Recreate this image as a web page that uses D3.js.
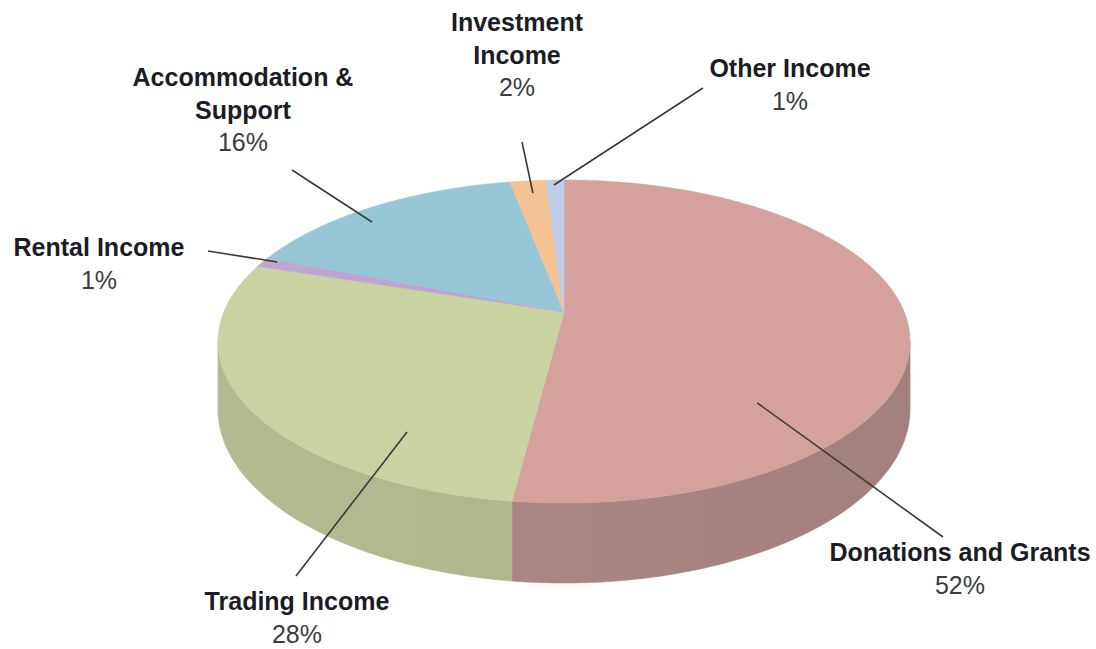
<!DOCTYPE html>
<html><head><meta charset="utf-8">
<script src="https://cdn.jsdelivr.net/npm/d3@7"></script>
<style>html,body{margin:0;padding:0;background:#fff}svg{display:block}</style>
</head><body>
<svg id="chart" width="1096" height="649"></svg>
<script>
// ---- data ----
const categories = ["Donations and Grants","Trading Income","Rental Income","Accommodation & Support","Investment Income","Other Income"];
const values = [52, 28, 1, 16, 2, 1];
const percentLabels = ["52%","28%","1%","16%","2%","1%"];
const nameLines = [["Donations and Grants"],["Trading Income"],["Rental Income"],["Accommodation &","Support"],["Investment","Income"],["Other Income"]];

// ---- styles / layout ----
const topColors  = ["#D5A19D","#C8D3A1","#BEA5D2","#97C7D6","#F3C394","#BFCDE9"];
const sideColors = ["#A98583","#AEB78C","#9C88B0","#7EA9B7","#D0A67E","#A2AEC8"];
const cx = 564, cy = 312, A = 340.2, B = 156.1, E = 0.1827, D0 = 65.4;
const labelLayout = [
  {x:960, y:561, at:0.725, r:0.735, lx:943, ly:537},
  {x:297, y:610, at:0.236, r:0.786, lx:296, ly:576},
  {x:99,  y:256, at:0.78,  r:0.958, lx:208, ly:251},
  {x:243, y:86,  at:0.417, r:0.902, lx:292, ly:170},
  {x:517, y:31,  at:0.55,  r:0.892, lx:522, ly:142},
  {x:790, y:77,  at:0.42,  r:0.956, lx:703, ly:88}
];
const lineH = 32.5;

const svg = d3.select("#chart");
const defs = svg.append("defs");

// perspective projection of a point on the pie disk (theta clockwise from 12 o'clock)
function proj(theta, r, h) {
  const u = r * Math.sin(theta), v = -r * Math.cos(theta);
  const den = 1 - E * v;
  return [cx + A * u / den, cy + (B * v + h) / den];
}

const arcs = d3.pie().sort(null).value(d => d)(values);
const line = d3.line();

// gradients for side walls (slightly lighter on the left, darker on the right)
sideColors.forEach((c, i) => {
  const g = defs.append("linearGradient").attr("id", "side" + i)
    .attr("gradientUnits", "userSpaceOnUse")
    .attr("x1", cx - A * 1.02).attr("x2", cx + A * 1.02).attr("y1", 0).attr("y2", 0);
  const base = d3.rgb(c);
  [[0, 1.03], [0.5, 1.0], [1, 0.96]].forEach(([o, f]) => {
    g.append("stop").attr("offset", o)
      .attr("stop-color", d3.rgb(base.r * f, base.g * f, base.b * f).formatHex());
  });
});

// visible (front-facing) angular range of the cylinder wall
const visLo = Math.PI - Math.acos(E), visHi = Math.PI + Math.acos(E);
const walls = [];
arcs.forEach((a, i) => {
  const s = Math.max(a.startAngle, visLo), e = Math.min(a.endAngle, visHi);
  if (e <= s) return;
  const n = Math.max(4, Math.ceil((e - s) / (Math.PI / 360)));
  const topPts = [], botPts = [];
  for (let k = 0; k <= n; k++) {
    const t = s + (e - s) * k / n;
    topPts.push(proj(t, 1, 0));
    botPts.push(proj(t, 1, D0));
  }
  walls.push({i, pts: topPts.concat(botPts.reverse())});
});

svg.append("g").selectAll("path").data(walls).join("path")
  .attr("d", d => line(d.pts) + "Z")
  .attr("fill", d => `url(#side${d.i})`)
  .attr("stroke", d => `url(#side${d.i})`)
  .attr("stroke-width", 0.6);

// top faces
svg.append("g").selectAll("path").data(arcs).join("path")
  .attr("d", a => {
    const n = Math.max(4, Math.ceil((a.endAngle - a.startAngle) / (Math.PI / 360)));
    const pts = [proj(0, 0, 0)];
    for (let k = 0; k <= n; k++) pts.push(proj(a.startAngle + (a.endAngle - a.startAngle) * k / n, 1, 0));
    return line(pts) + "Z";
  })
  .attr("fill", (a, i) => topColors[i])
  .attr("stroke", (a, i) => topColors[i])
  .attr("stroke-width", 0.6);

// leader lines
svg.append("g").selectAll("line").data(arcs).join("line")
  .each(function(a, i) {
    const L = labelLayout[i];
    const t = a.startAngle + (a.endAngle - a.startAngle) * L.at;
    const p = proj(t, L.r, 0);
    d3.select(this).attr("x1", L.lx).attr("y1", L.ly).attr("x2", p[0]).attr("y2", p[1]);
  })
  .attr("stroke", "#3a3a3a").attr("stroke-width", 1.6);

// labels
const lg = svg.append("g").attr("text-anchor", "middle").attr("font-family", "'Liberation Sans', Arial, sans-serif").attr("font-size", 25);
categories.forEach((c, i) => {
  const L = labelLayout[i];
  nameLines[i].forEach((s, j) => {
    lg.append("text").attr("x", L.x).attr("y", L.y + j * lineH)
      .attr("font-weight", "bold").attr("fill", "#1c1c24").text(s);
  });
  lg.append("text").attr("x", L.x).attr("y", L.y + nameLines[i].length * lineH)
    .attr("fill", "#3c3c3c").text(percentLabels[i]);
});
</script>
</body></html>
